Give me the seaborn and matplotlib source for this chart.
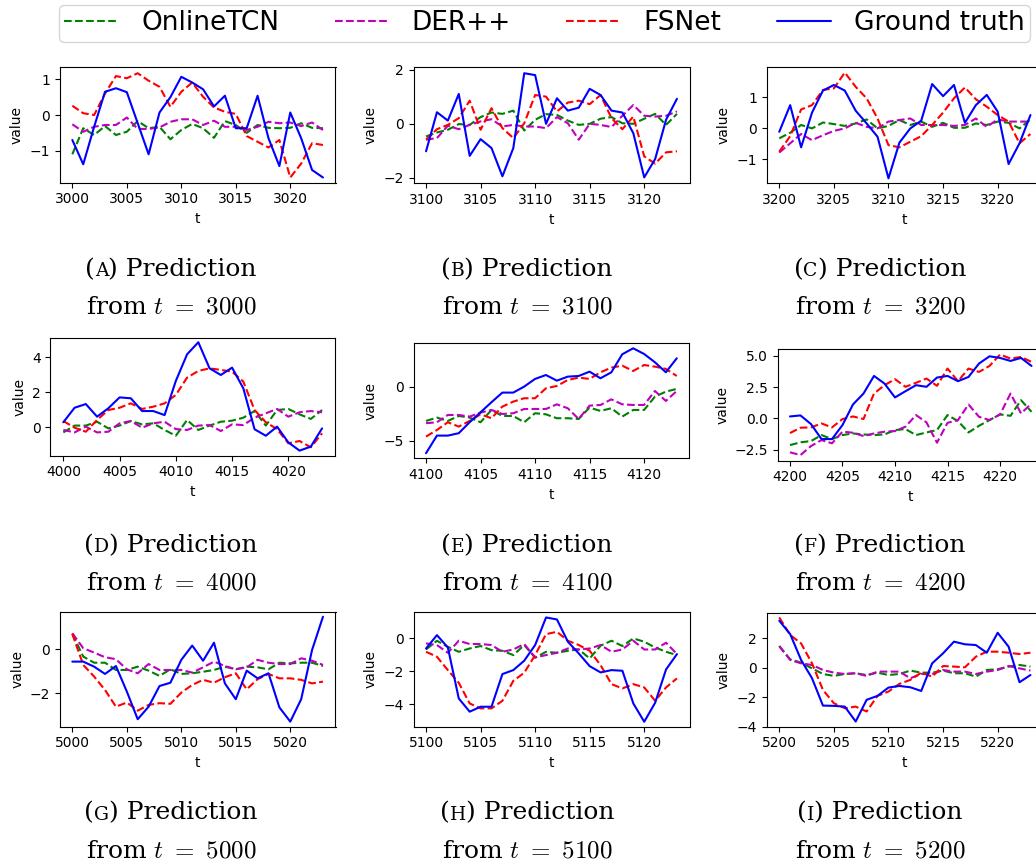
import numpy as np
import matplotlib
matplotlib.use("Agg")
import matplotlib.pyplot as plt
from matplotlib.lines import Line2D
from matplotlib.offsetbox import TextArea, HPacker, AnnotationBbox
import seaborn as sns

# ---------------- data ----------------
starts = [3000, 3100, 3200, 4000, 4100, 4200, 5000, 5100, 5200]
letters = ["A", "B", "C", "D", "E", "F", "G", "H", "I"]
series_names = ["OnlineTCN", "DER++", "FSNet", "Ground truth"]

# t = 3000
tcn_3000 = [-1.10, -0.37, -0.56, -0.31, -0.56, -0.47, -0.17, -0.37, -0.33, -0.68, -0.42, -0.25,
            -0.37, -0.64, -0.17, -0.28, -0.50, -0.28, -0.36, -0.37, -0.36, -0.23, -0.36, -0.37]
der_3000 = [-0.26, -0.47, -0.33, -0.28, -0.28, -0.07, -0.39, -0.39, -0.35, -0.19, -0.12, -0.12,
            -0.28, -0.16, -0.33, -0.33, -0.42, -0.33, -0.19, -0.23, -0.21, -0.31, -0.21, -0.42]
fsnet_3000 = [0.26, 0.05, 0.00, 0.60, 1.09, 1.03, 1.17, 0.96, 0.79, 0.23, 0.65, 0.91,
              0.51, 0.21, 0.09, 0.03, -0.59, -0.75, -0.91, -0.70, -1.75, -1.36, -0.79, -0.84]
gt_3000 = [-0.70, -1.38, -0.33, 0.65, 0.75, 0.64, -0.23, -1.10, 0.07, 0.50, 1.07, 0.91,
           0.72, 0.24, 0.54, -0.37, -0.37, 0.54, -0.65, -1.43, 0.07, -0.65, -1.54, -1.75]

# t = 3100
tcn_3100 = [-0.47, -0.32, -0.22, -0.01, -0.04, 0.25, 0.42, 0.37, 0.49, -0.25, 0.15, 0.36,
            0.33, 0.12, -0.04, 0.00, 0.19, 0.25, 0.02, 0.00, 0.19, 0.37, -0.04, 0.37]
der_3100 = [-0.59, -0.53, -0.07, -0.20, -0.04, 0.09, 0.17, -0.10, -0.04, -0.10, -0.10, -0.16,
            0.25, 0.02, -0.59, 0.00, -0.04, -0.12, 0.30, 0.70, 0.30, 0.27, 0.30, 0.46]
fsnet_3100 = [-0.59, -0.20, -0.04, 0.21, 0.86, -0.22, 0.58, -0.16, -0.53, 0.02, 1.07, 1.01,
              0.46, 0.79, 0.86, 0.73, 1.07, 0.21, -0.20, 0.27, -1.21, -1.48, -1.06, -1.02]
gt_3100 = [-1.02, 0.43, 0.12, 1.11, -1.19, -0.57, -0.90, -1.95, -0.90, 1.88, 1.81, 0.00,
           0.95, 0.49, 0.60, 1.30, 1.07, 0.49, 0.42, -0.35, -1.99, -1.31, 0.15, 0.93]

# t = 3200
tcn_3200 = [-0.32, -0.14, 0.11, 0.00, 0.19, 0.14, 0.08, 0.16, 0.29, 0.00, 0.08, 0.27,
            0.11, 0.22, 0.05, 0.18, 0.02, 0.02, 0.16, 0.11, 0.22, 0.18, 0.00, 0.29]
der_3200 = [-0.78, -0.48, -0.18, -0.38, -0.22, -0.08, 0.00, 0.18, 0.05, 0.00, 0.22, 0.27,
            0.32, 0.11, 0.11, 0.11, 0.08, 0.11, 0.32, 0.05, 0.29, 0.22, 0.22, 0.22]
fsnet_3200 = [-0.75, -0.25, 0.61, 0.75, 1.24, 1.29, 1.80, 1.34, 0.97, 0.32, -0.54, -0.61,
              -0.43, -0.25, 0.11, 0.51, 0.97, 1.32, 0.94, 0.70, 0.43, 0.22, -0.48, -0.18]
gt_3200 = [-0.11, 0.75, -0.61, 0.51, 1.22, 1.40, 1.22, 0.57, 0.16, -0.27, -1.61, -0.46,
           0.00, 0.25, 1.43, 1.04, 1.40, 0.18, 0.75, 1.08, 0.54, -1.15, -0.48, 0.43]

# t = 4000
tcn_4000 = [-0.29, 0.10, 0.10, 0.32, -0.06, 0.10, 0.36, 0.17, 0.23, -0.15, -0.48, 0.42,
            -0.15, 0.10, 0.32, 0.38, 0.55, 0.93, 0.10, 0.99, 1.05, 0.74, 0.48, 0.99]
der_4000 = [-0.15, -0.29, 0.04, -0.29, -0.25, 0.23, 0.36, -0.02, 0.23, 0.32, -0.10, -0.15,
            0.10, 0.13, -0.21, 0.17, 0.13, 0.55, 0.80, 1.05, 0.61, 0.86, 0.93, 0.86]
fsnet_4000 = [0.36, -0.02, -0.25, 0.42, 0.99, 1.12, 1.37, 1.05, 1.18, 1.37, 1.85, 2.84,
              3.22, 3.37, 3.28, 3.18, 2.61, 0.99, 0.29, -0.10, -0.91, -0.78, -1.14, -0.34]
gt_4000 = [0.29, 1.12, 1.33, 0.61, 1.09, 1.71, 1.66, 0.93, 0.93, 0.70, 2.65, 4.17,
           4.86, 3.37, 2.99, 3.41, 2.23, -0.11, -0.48, 0.04, -0.86, -1.33, -1.10, -0.06]

# t = 4100
tcn_4100 = [-3.16, -2.85, -3.16, -2.70, -2.85, -3.28, -2.15, -2.70, -2.70, -3.28, -2.45, -2.55,
            -2.91, -2.91, -2.98, -1.93, -2.24, -1.99, -2.76, -2.15, -2.15, -0.92, -0.46, -0.21]
der_4100 = [-3.37, -3.28, -2.61, -2.61, -2.76, -2.39, -2.15, -2.52, -2.45, -2.06, -2.06, -2.06,
            -1.63, -1.99, -2.98, -1.75, -1.69, -1.17, -1.63, -1.69, -1.69, -0.40, -1.32, -0.40]
fsnet_4100 = [-4.60, -3.99, -3.28, -3.68, -3.16, -2.55, -2.91, -1.84, -1.38, -1.07, -1.07, -0.15,
              0.06, 0.61, 0.83, 0.71, 1.32, 1.75, 1.93, 1.44, 1.99, 1.84, 1.63, 0.98]
gt_4100 = [-6.13, -4.51, -4.51, -4.29, -3.28, -2.36, -1.44, -0.55, -0.55, 0.00, 0.71, 1.07,
           0.55, 0.92, 0.98, 1.38, 0.77, 1.32, 2.98, 3.53, 3.01, 2.24, 1.32, 2.61]

# t = 4200
tcn_4200 = [-2.13, -1.91, -1.81, -1.33, -1.65, -1.33, -1.20, -1.28, -1.33, -1.28, -0.93, -0.85,
            -1.33, -1.12, -0.93, 0.27, -0.21, -1.12, -0.59, -0.13, 0.32, 0.21, 1.46, 0.53]
der_4200 = [-2.71, -2.93, -2.21, -1.73, -1.99, -1.06, -1.14, -1.41, -1.20, -1.06, -1.01, -0.66,
            0.27, -0.32, -1.94, -0.35, -0.13, 1.12, 0.13, -0.13, 0.32, 1.99, 0.40, 1.20]
fsnet_4200 = [-1.17, -0.74, -0.72, -0.40, -0.72, -0.05, 0.16, -0.05, 1.99, 2.66, 3.14, 2.53,
              2.85, 3.19, 2.61, 3.99, 2.98, 3.99, 3.72, 4.20, 5.11, 4.79, 4.92, 4.52]
gt_4200 = [0.16, 0.24, -0.45, -1.65, -1.65, -0.53, 1.12, 1.99, 3.40, 2.79, 1.68, 2.18,
           2.66, 2.53, 3.27, 3.40, 2.98, 3.32, 4.39, 4.97, 4.84, 4.60, 4.84, 4.20]

# t = 5000
tcn_5000 = [0.70, -0.33, -0.61, -0.61, -0.94, -0.94, -0.79, -0.97, -1.21, -0.91, -1.12, -1.09,
            -1.02, -0.94, -0.79, -0.91, -0.79, -0.82, -0.91, -0.61, -0.64, -0.61, -0.61, -0.76]
der_5000 = [0.73, 0.05, -0.15, -0.36, -0.45, -0.91, -1.09, -0.67, -0.94, -0.94, -0.94, -1.06,
            -0.82, -0.56, -0.76, -0.91, -0.82, -0.48, -0.61, -0.67, -0.67, -0.41, -0.52, -0.71]
fsnet_5000 = [0.70, -0.71, -1.24, -1.85, -2.61, -2.42, -2.79, -2.53, -2.45, -2.48, -1.97, -1.62,
              -1.39, -1.52, -1.27, -1.09, -1.82, -1.36, -1.12, -1.32, -1.32, -1.39, -1.55, -1.47]
gt_5000 = [-0.56, -0.56, -0.79, -1.12, -0.76, -1.92, -3.18, -2.61, -1.67, -1.52, -0.48, 0.17,
           -0.52, 0.30, -1.55, -2.27, -0.97, -1.32, -1.09, -2.64, -3.29, -2.27, -0.03, 1.48]

# t = 5100
tcn_5100 = [-0.67, -0.14, -0.51, -0.81, -0.61, -0.46, -0.71, -0.75, -1.01, -0.40, -1.17, -0.81,
            -0.87, -0.75, -0.67, -1.21, -0.44, -0.14, -0.46, 0.00, -0.20, -0.55, -0.81, -1.01]
der_5100 = [-0.30, -0.40, -0.87, -0.14, -0.34, -0.34, -0.40, -0.81, -0.67, -0.34, -1.15, -1.01,
            -0.87, -0.61, -0.67, -0.61, -0.40, -0.81, -0.67, -0.14, -0.67, -0.67, -0.26, -0.95]
fsnet_5100 = [-0.81, -1.11, -1.92, -2.69, -3.94, -4.24, -4.24, -3.78, -2.57, -2.08, -1.01, 0.26,
              0.40, -0.14, -0.40, -0.75, -1.62, -2.77, -3.03, -2.77, -2.97, -3.78, -2.97, -2.42]
gt_5100 = [-0.61, 0.20, -0.55, -3.64, -4.44, -4.14, -4.14, -2.16, -1.92, -1.35, -0.40, 1.27,
           1.15, -0.20, -0.91, -1.68, -2.06, -1.92, -1.96, -3.94, -5.05, -3.90, -1.88, -0.95]

# t = 5200
tcn_5200 = [1.46, 0.56, 0.34, -0.05, -0.43, -0.56, -0.43, -0.38, -0.50, -0.34, -0.50, -0.43,
            -0.20, -0.34, -0.34, -0.20, -0.38, -0.38, -0.61, -0.16, -0.11, 0.07, 0.18, 0.07]
der_5200 = [1.46, 0.52, 0.29, 0.18, -0.16, -0.34, -0.43, -0.38, -0.56, -0.27, -0.27, -0.27,
            -0.72, -0.43, -0.43, -0.16, -0.27, -0.27, -0.43, -0.27, -0.16, 0.11, -0.05, -0.20]
fsnet_5200 = [3.40, 2.21, 1.64, 0.29, -1.51, -2.41, -2.75, -2.64, -2.97, -1.91, -1.62, -1.10,
              -0.83, -0.34, -0.61, 0.11, 0.07, 0.02, 0.74, 1.08, 1.08, 1.01, 0.92, 1.01]
gt_5200 = [3.18, 2.27, 0.52, -0.72, -2.57, -2.59, -2.64, -3.65, -2.18, -1.91, -1.35, -1.24,
           -1.33, -1.58, 0.29, 0.97, 1.76, 1.58, 1.53, 1.01, 2.36, 1.42, -0.99, -0.50]

tcn_all = [tcn_3000, tcn_3100, tcn_3200, tcn_4000, tcn_4100, tcn_4200, tcn_5000, tcn_5100, tcn_5200]
der_all = [der_3000, der_3100, der_3200, der_4000, der_4100, der_4200, der_5000, der_5100, der_5200]
fsnet_all = [fsnet_3000, fsnet_3100, fsnet_3200, fsnet_4000, fsnet_4100, fsnet_4200,
             fsnet_5000, fsnet_5100, fsnet_5200]
gt_all = [gt_3000, gt_3100, gt_3200, gt_4000, gt_4100, gt_4200, gt_5000, gt_5100, gt_5200]

ytick_sets = [[-1, 0, 1], [-2, 0, 2], [-1, 0, 1], [0, 2, 4], [-5, 0],
              [-2.5, 0.0, 2.5, 5.0], [-2, 0], [-4, -2, 0], [-4, -2, 0, 2]]

# ---------------- layout / style ----------------
W, H = 1036, 865
# axes boxes in pixels: left, top, right, bottom
boxes = [(59.8, 67.3, 335.5, 182.7), (413.5, 67.3, 689.5, 183.3), (766.7, 67.3, 1043.0, 183.3),
         (50.4, 337.7, 335.0, 455.7), (413.5, 343.3, 689.3, 458.3), (777.9, 349.3, 1043.6, 460.7),
         (59.8, 611.7, 335.5, 726.7), (413.5, 611.7, 689.5, 726.7), (766.7, 612.7, 1043.0, 726.7)]
ylims = [(-1.896, 1.336), (-2.21, 2.10), (-1.77, 1.97), (-1.62, 5.12), (-6.6, 3.99),
         (-3.38, 5.53), (-3.52, 1.71), (-5.35, 1.62), (-3.99, 3.72)]
col_centers = [171, 527, 880]
row_caption_center = [270.0, 546.0, 813.0]
row_line2_base = [314, 590, 857]

colors = ["green", "m", "red", "blue"]
styles = ["--", "--", "--", "-"]

sns.set_style("ticks", {"axes.edgecolor": "black", "xtick.color": "black",
                        "ytick.color": "black", "axes.labelcolor": "black",
                        "text.color": "black"})
plt.rcParams["font.family"] = ["DejaVu Sans"]
plt.rcParams["mathtext.fontset"] = "cm"
plt.rcParams["axes.linewidth"] = 0.8

fig = plt.figure(figsize=(W / 100, H / 100), dpi=100)

for i, start in enumerate(starts):
    l, t_, r, b = boxes[i]
    ax = fig.add_axes([l / W, 1 - b / H, (r - l) / W, (b - t_) / H])
    tt = np.arange(start, start + 24)
    for vals, c, ls in zip([tcn_all[i], der_all[i], fsnet_all[i], gt_all[i]], colors, styles):
        sns.lineplot(x=tt, y=vals, ax=ax, color=c, linestyle=ls, linewidth=1.5, legend=False)
    ax.set_xlim(start - 1.15, start + 24.15)
    ax.set_ylim(*ylims[i])
    ax.set_xticks([start + k for k in (0, 5, 10, 15, 20)])
    ax.set_yticks(ytick_sets[i])
    ax.set_xlabel("t", fontsize=10)
    ax.set_ylabel("value", fontsize=10)
    ax.tick_params(labelsize=10, length=3.5, width=0.8, direction="out")
    for sp in ax.spines.values():
        sp.set_visible(True)
        sp.set_color("black")

    # caption
    cx = col_centers[i % 3]
    row = i // 3
    tp = dict(family="DejaVu Serif", size=18, color="black")
    tp_small = dict(family="DejaVu Serif", size=13.5, color="black")
    box = HPacker(children=[TextArea("(", textprops=tp),
                            TextArea(letters[i], textprops=tp_small),
                            TextArea(") Prediction", textprops=tp)],
                  align="baseline", pad=0, sep=0)
    ab = AnnotationBbox(box, (cx, H - row_caption_center[row]), xycoords="figure pixels",
                        frameon=False, box_alignment=(0.5, 0.5))
    fig.add_artist(ab)
    fig.text(cx / W, 1 - row_line2_base[row] / H, r"from $t\ =\ %d$" % start,
             ha="center", va="baseline", family="DejaVu Serif", size=18, color="black")

handles = [Line2D([0], [0], color=c, linestyle=ls, linewidth=1.5) for c, ls in zip(colors, styles)]
leg = fig.legend(handles, series_names, loc="upper left", bbox_to_anchor=(59 / W, 1 - 5 / H),
                 ncol=4, fontsize=19, frameon=True, fancybox=True, borderpad=0.2,
                 handlelength=2.05, handletextpad=0.87, columnspacing=2.1, borderaxespad=0)
leg.get_frame().set_edgecolor("0.8")
leg.get_frame().set_linewidth(1.0)

fig.savefig("out.png", dpi=100)
